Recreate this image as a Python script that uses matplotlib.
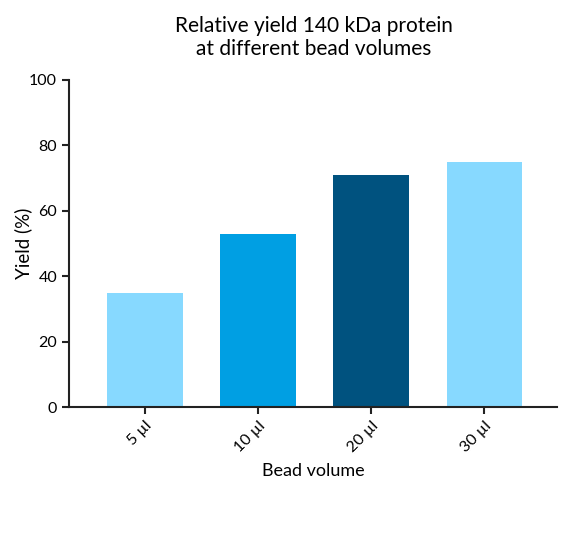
import matplotlib
matplotlib.use('Agg')
import matplotlib.pyplot as plt

volumes = ['5 µl', '10 µl', '20 µl', '30 µl']
yields = [35, 53, 71, 75]
colors = ['#87D9FF', '#009FE3', '#00527F', '#87D9FF']

plt.rcParams['font.family'] = ['Lato', 'DejaVu Sans']

fig = plt.figure(figsize=(5.7, 5.54), dpi=100)
ax = fig.add_axes([0.121, 0.265, 0.856, 0.591])

x = range(len(volumes))
ax.bar(x, yields, width=0.67, color=colors)

ax.set_xlim(-0.67, 3.64)
ax.set_ylim(0, 100)
ax.set_yticks([0, 20, 40, 60, 80, 100])
ax.set_xticks(list(x))
ax.set_xticklabels(volumes, rotation=45, ha='right', rotation_mode='anchor')

for s in ['top', 'right']:
    ax.spines[s].set_visible(False)
for s in ['left', 'bottom']:
    ax.spines[s].set_linewidth(1.5)
    ax.spines[s].set_color('#222222')
ax.tick_params(width=1.5, length=5, labelsize=11.5, color='#222222')

ax.set_ylabel('Yield (%)', fontsize=13.5)
ax.yaxis.set_label_coords(-0.076, 0.5)
ax.set_xlabel('Bead volume', fontsize=13, labelpad=6)
fig.text(0.55, 0.893, 'Relative yield 140 kDa protein\nat different bead volumes',
         ha='center', va='bottom', fontsize=15, linespacing=1.2)

fig.savefig('out.png', dpi=100)
